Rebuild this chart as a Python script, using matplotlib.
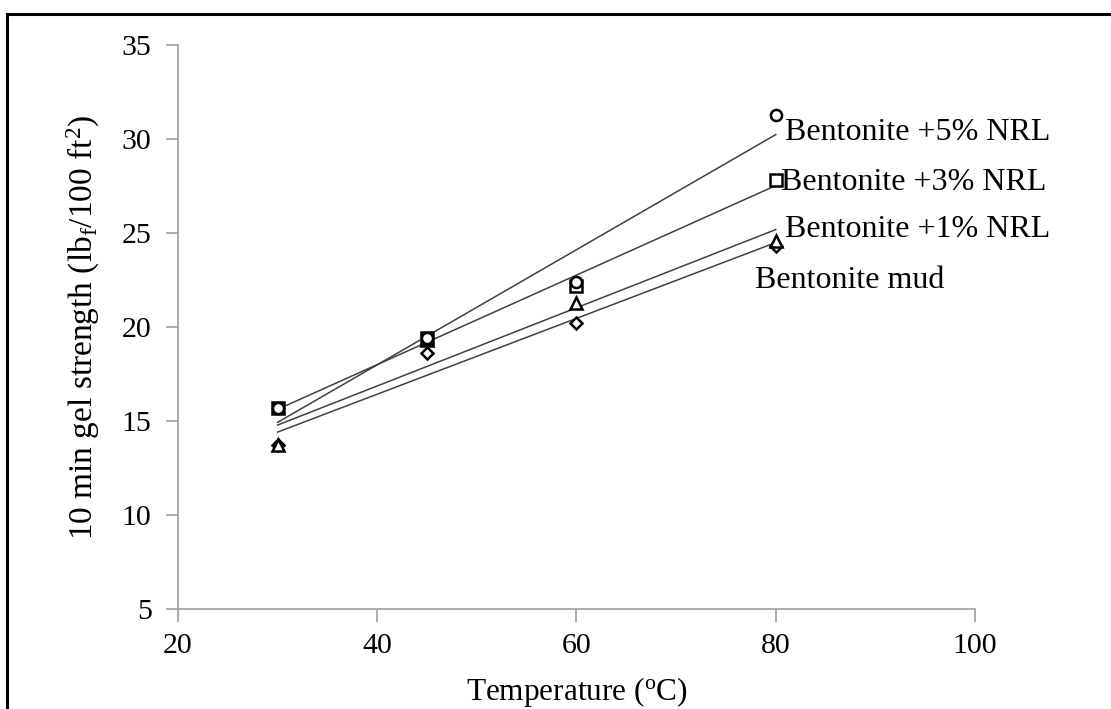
import numpy as np
import matplotlib.pyplot as plt
from matplotlib.patches import Rectangle

plt.rcParams['font.family'] = ['Liberation Serif', 'DejaVu Serif']
plt.rcParams['mathtext.fontset'] = 'custom'
plt.rcParams['mathtext.rm'] = 'Liberation Serif'
plt.rcParams['mathtext.it'] = 'Liberation Serif:italic'

# data
temperature = [30, 45, 60, 80]
mud = [13.7, 18.6, 20.2, 24.3]
nrl_1 = [13.7, 19.3, 21.3, 24.6]
nrl_3 = [15.7, 19.4, 22.2, 27.8]
nrl_5 = [15.7, 19.4, 22.4, 31.3]

series = [
    ("Bentonite mud", mud, 'D', 6, (77.9, 22.07)),
    ("Bentonite +1% NRL", nrl_1, '^', 8, (80.9, 24.79)),
    ("Bentonite +3% NRL", nrl_3, 's', 8, (80.5, 27.29)),
    ("Bentonite +5% NRL", nrl_5, 'o', 8, (80.9, 29.95)),
]

fig = plt.figure(figsize=(11.11, 7.09), dpi=100)
ax = fig.add_axes([0.1602, 0.141, 0.7174, 0.7955])

x = np.array(temperature)
for name, vals, mk, ms, (tx, ty) in series:
    k, b = np.polyfit(x, vals, 1)
    xs = np.array([30, 80])
    ax.plot(xs, k * xs + b, color='#404040', lw=1.1, zorder=2)
    ax.plot(x, vals, linestyle='none', marker=mk, ms=ms, mfc='white',
            mec='black', mew=1.8, zorder=3)
    ax.text(tx, ty, name, fontsize=23, va='baseline', ha='left')

ax.set_xlim(20, 100)
ax.set_ylim(5, 35)
ax.set_xticks([20, 40, 60, 80, 100])
ax.set_yticks([5, 10, 15, 20, 25, 30, 35])
for s in ['top', 'right']:
    ax.spines[s].set_visible(False)
for s in ['left', 'bottom']:
    ax.spines[s].set_color('#a0a0a0')
    ax.spines[s].set_linewidth(1.2)
ax.tick_params(colors='#a0a0a0', labelcolor='black', labelsize=21.5,
               length=9, width=1.2)
ax.tick_params(axis='x', pad=8)
ax.tick_params(axis='y', pad=10)

ax.set_xlabel('Temperature ($^{\\mathrm{o}}$C)', fontsize=22.5, labelpad=12)
ax.set_ylabel('10 min gel strength (lb$_{\\mathrm{f}}$/100 ft$^{2}$)',
              fontsize=24, labelpad=14)

# page border (top and left visible)
fig.patches.append(Rectangle((7 / 1111, -0.1), 1.2, 1 - 14 / 709 + 0.1,
                             transform=fig.transFigure, fill=False,
                             edgecolor='black', lw=2.2))

fig.savefig('out.png', dpi=100)
